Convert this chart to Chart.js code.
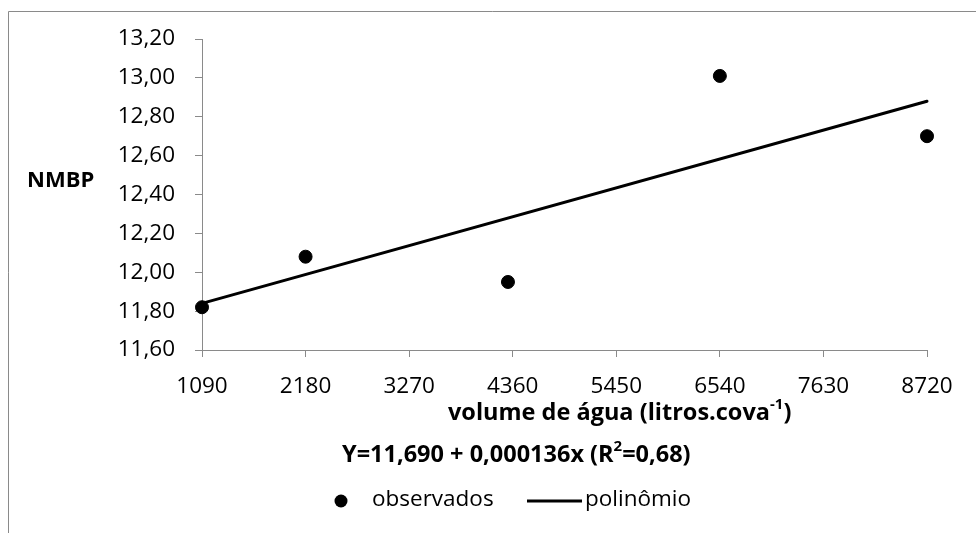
<!DOCTYPE html>
<html>
<head>
<meta charset="utf-8">
<script src="https://cdn.jsdelivr.net/npm/chart.js@4/dist/chart.umd.min.js"></script>
<style>
  body { margin: 0; background: #fff; }
  #wrap { width: 976px; height: 533px; position: relative; }
</style>
</head>
<body>
<div id="wrap"><canvas id="chart"></canvas></div>
<script>
// data
var volumes = [1090, 2180, 4310, 6540, 8720];
var observed = [11.82, 12.08, 11.95, 13.01, 12.70];
var fitX = [1090, 8720];
var fitY = [11.84, 12.88];
var yMin = 11.6, yMax = 13.2, yStep = 0.2;
var xMin = 1090, xMax = 8720, xStep = 1090;

var xTitle = [{t: 'volume de água (litros.cova'}, {t: '-1', sup: true}, {t: ')'}];
var equation = [{t: 'Y=11,690 + 0,000136x (R'}, {t: '2', sup: true}, {t: '=0,68)'}];
var yTitle = 'NMBP';

var FONT = '"Open Sans", "Liberation Sans", sans-serif';
var GREY = '#8a8a8a';

function drawRich(ctx, parts, x, y) {
    parts.forEach(function (p) {
        if (p.sup) {
            ctx.font = 'bold 15px ' + FONT;
            ctx.fillText(p.t, x, y - 8);
        } else {
            ctx.font = 'bold 23.5px ' + FONT;
            ctx.fillText(p.t, x, y);
        }
        x += ctx.measureText(p.t).width;
    });
}

var extras = {
    id: 'extras',
    beforeDraw: function (chart) {
        var ctx = chart.ctx;
        ctx.save();
        ctx.strokeStyle = GREY;
        ctx.lineWidth = 1;
        ctx.beginPath();
        ctx.moveTo(8.5, chart.height);
        ctx.lineTo(8.5, 11.5);
        ctx.lineTo(chart.width, 11.5);
        ctx.stroke();
        ctx.restore();
    },
    afterDraw: function (chart) {
        var ctx = chart.ctx;
        ctx.save();
        ctx.fillStyle = '#000';
        ctx.textBaseline = 'middle';
        ctx.textAlign = 'left';
        ctx.font = 'bold 22px ' + FONT;
        ctx.fillText(yTitle, 27, 181);
        drawRich(ctx, xTitle, 448, 413);
        drawRich(ctx, equation, 342, 455);

        // legend
        var ds = chart.data.datasets;
        ctx.font = '22.5px ' + FONT;
        ctx.beginPath();
        ctx.arc(341, 501, 6.5, 0, Math.PI * 2);
        ctx.fillStyle = ds[0].backgroundColor;
        ctx.fill();
        ctx.fillStyle = '#000';
        ctx.fillText(ds[0].label, 372, 500);
        ctx.strokeStyle = ds[1].borderColor;
        ctx.lineWidth = 3;
        ctx.beginPath();
        ctx.moveTo(527, 501);
        ctx.lineTo(582, 501);
        ctx.stroke();
        ctx.fillText(ds[1].label, 585, 500);
        ctx.restore();
    }
};

function pairs(xs, ys) {
    return xs.map(function (x, i) { return {x: x, y: ys[i]}; });
}

new Chart(document.getElementById('chart'), {
    type: 'scatter',
    data: {
        datasets: [{
            label: 'observados',
            data: pairs(volumes, observed),
            backgroundColor: '#000',
            borderColor: '#000',
            pointRadius: 6.5,
            pointHoverRadius: 6.5,
            clip: false
        }, {
            label: 'polinômio',
            data: pairs(fitX, fitY),
            showLine: true,
            borderColor: '#000',
            borderWidth: 3,
            borderCapStyle: 'round',
            pointRadius: 0,
            clip: false
        }]
    },
    options: {
        responsive: true,
        maintainAspectRatio: false,
        animation: false,
        layout: {padding: {top: 39, right: 49, bottom: 0, left: 0}},
        plugins: {legend: {display: false}, tooltip: {enabled: false}},
        scales: {
            x: {
                type: 'linear',
                min: xMin,
                max: xMax,
                afterFit: function (scale) { scale.height = 183; },
                border: {color: GREY, width: 1},
                grid: {drawOnChartArea: false, color: GREY, tickLength: 7},
                ticks: {
                    stepSize: xStep,
                    color: '#000',
                    padding: 16,
                    font: {family: FONT, size: 22.5},
                    callback: function (v) { return String(v); }
                }
            },
            y: {
                min: yMin,
                max: yMax,
                afterFit: function (scale) { scale.width = 202; },
                border: {color: GREY, width: 1},
                grid: {drawOnChartArea: false, color: GREY, tickLength: 7},
                ticks: {
                    stepSize: yStep,
                    color: '#000',
                    padding: 20,
                    font: {family: FONT, size: 22.5},
                    callback: function (v) { return v.toFixed(2).replace('.', ','); }
                }
            }
        }
    },
    plugins: [extras]
});
</script>
</body>
</html>
